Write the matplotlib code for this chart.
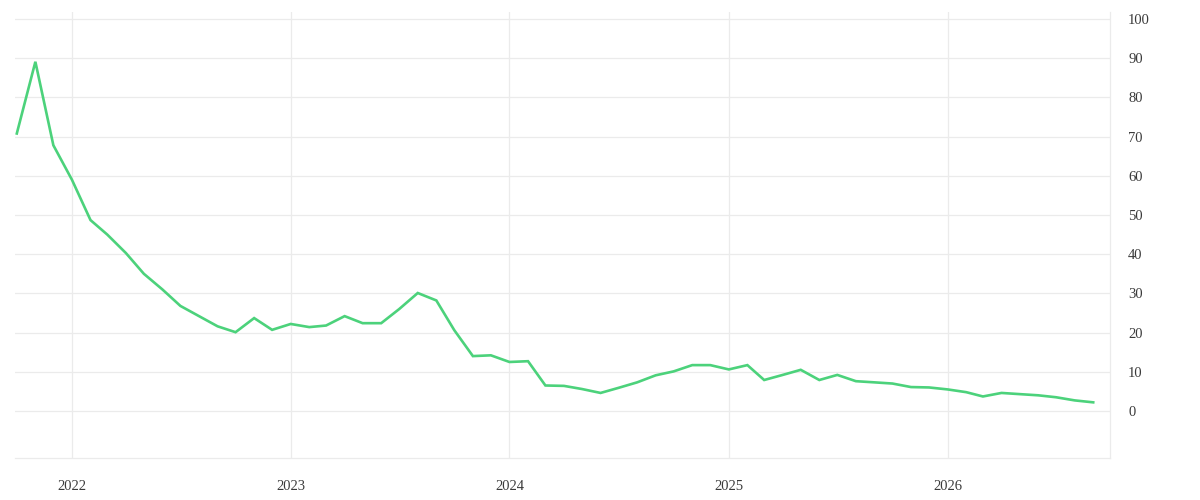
import pandas as pd
import matplotlib.pyplot as plt
import matplotlib.dates as mdates

# monthly values, Oct 2021 .. Sep 2026
months = pd.date_range('2021-10-01', '2026-09-01', freq='MS')
values = [70.8, 89.1, 67.8, 59.0, 48.7, 45.0, 40.3, 35.0, 31.0, 26.8, 24.2, 21.6,
          20.1, 23.7, 20.7, 22.2, 21.4, 21.8, 24.2, 22.4, 22.4, 26.0, 30.1, 28.2,
          20.6, 14.0, 14.2, 12.5, 12.7, 6.5, 6.4, 5.6, 4.6, 5.9, 7.3, 9.1,
          10.1, 11.7, 11.7, 10.6, 11.7, 7.9, 9.2, 10.5, 7.9, 9.2, 7.6, 7.3,
          7.0, 6.1, 6.0, 5.5, 4.8, 3.7, 4.6, 4.3, 4.0, 3.5, 2.7, 2.2]
yticks = list(range(0, 101, 10))
years = ['2022', '2023', '2024', '2025', '2026']

plt.rcParams['font.family'] = ['Liberation Serif', 'DejaVu Serif']

fig = plt.figure(figsize=(12, 5), dpi=100)
ax = fig.add_axes([0.0125, 0.084, 0.9125, 0.892])

ax.plot(months, values, color='#4cd27b', linewidth=1.9, solid_joinstyle='miter')

ax.set_ylim(-12, 101.8)
ax.set_xlim(pd.Timestamp('2021-09-28'), pd.Timestamp('2026-09-29'))
ax.set_yticks(yticks)
ax.set_xticks([pd.Timestamp(y + '-01-01') for y in years])
ax.xaxis.set_major_formatter(mdates.DateFormatter('%Y'))

ax.yaxis.tick_right()
ax.tick_params(axis='both', length=0, labelsize=10.5, labelcolor='#3a3a3a')
ax.tick_params(axis='y', pad=13)
ax.tick_params(axis='x', pad=16)
for lab in ax.get_yticklabels():
    lab.set_horizontalalignment('left')

ax.grid(True, color='#ebebeb', linewidth=0.9)
ax.set_axisbelow(True)
for s in ['top', 'left']:
    ax.spines[s].set_visible(False)
for s in ['right', 'bottom']:
    ax.spines[s].set_color('#ebebeb')
    ax.spines[s].set_linewidth(0.9)

fig.savefig('out.png', dpi=100)
